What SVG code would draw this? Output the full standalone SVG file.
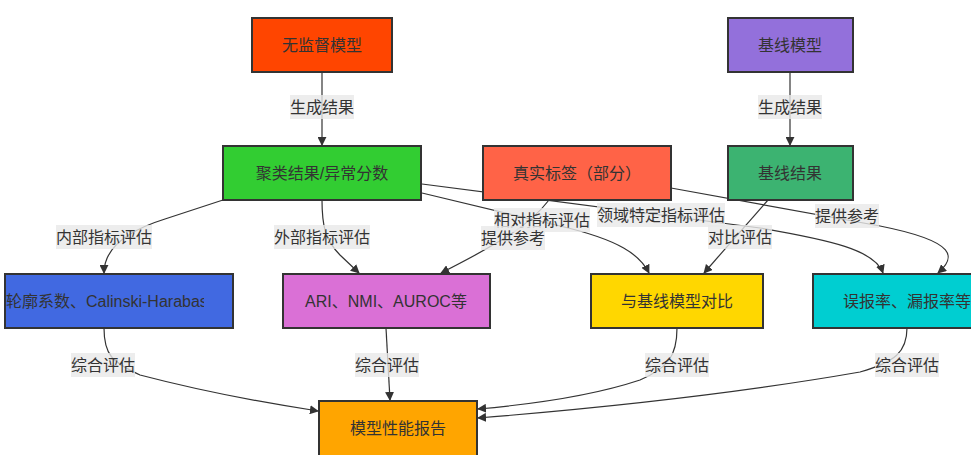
<svg xmlns="http://www.w3.org/2000/svg" width="971" height="455" viewBox="0 0 971 455">
<style>
.node rect{stroke:#333;stroke-width:2}
.node text{font-family:"Liberation Sans","Noto Sans CJK SC",sans-serif;font-size:16px;fill:#333;text-anchor:middle;dominant-baseline:central}
.edge{fill:none;stroke:#333;stroke-width:1.2;marker-end:url(#arr)}
.lbl rect{fill:#e8e8e8;fill-opacity:0.8}
.lbl text{font-family:"Liberation Sans","Noto Sans CJK SC",sans-serif;font-size:16px;fill:#333;text-anchor:middle;dominant-baseline:central}
</style>
<defs>
<marker id="arr" viewBox="0 0 10 10" refX="9" refY="5" markerUnits="userSpaceOnUse" markerWidth="9" markerHeight="9" orient="auto">
<path d="M0,0 L10,5 L0,10 z" fill="#333"/>
</marker>
<clipPath id="clipBlue"><rect x="5" y="274" width="199" height="54"/></clipPath>
</defs>
<rect width="971" height="455" fill="#fff"/>
<g id="connectors">
<path class="edge" d="M322,72 L322,145"/>
<path class="edge" d="M790,72 L790,145"/>
<path class="edge" d="M226,199 L165,219 Q104,238 104,273"/>
<path class="edge" d="M322,200 C322,225 325,240 340,255 L359,273"/>
<path class="edge" d="M549,200 C530,225 500,243 441,273"/>
<path class="edge" d="M422,193 L560,226 C620,240 640,255 649,273"/>
<path class="edge" d="M768,200 L704,273"/>
<path class="edge" d="M422,184 L760,228 C830,240 875,250 883,273"/>
<path class="edge" d="M671,188 L880,226 C960,242 955,258 938,273"/>
<path class="edge" d="M104,328 C104,355 112,362 140,375 Q220,396 318,411"/>
<path class="edge" d="M386,328 L390,400"/>
<path class="edge" d="M677,328 C677,356 668,368 640,380 Q580,400 478,409"/>
<path class="edge" d="M907,328 C907,352 895,362 860,372 Q700,400 478,418"/>
<g class="lbl">
<rect x="290" y="95" width="64" height="24"/><text x="322" y="107">生成结果</text>
<rect x="758" y="95" width="64" height="24"/><text x="790" y="107">生成结果</text>
<rect x="56" y="225" width="96" height="24"/><text x="104" y="237">内部指标评估</text>
<rect x="274" y="225" width="96" height="24"/><text x="322" y="237">外部指标评估</text>
<rect x="494" y="208" width="96" height="24"/><text x="542" y="220">相对指标评估</text>
<rect x="481" y="226" width="64" height="24"/><text x="513" y="238">提供参考</text>
<rect x="597" y="203" width="128" height="24"/><text x="661" y="215">领域特定指标评估</text>
<rect x="708" y="225" width="64" height="24"/><text x="740" y="237">对比评估</text>
<rect x="815" y="204" width="64" height="24"/><text x="847" y="216">提供参考</text>
<rect x="71" y="353" width="64" height="24"/><text x="103" y="365">综合评估</text>
<rect x="355" y="353" width="64" height="24"/><text x="387" y="365">综合评估</text>
<rect x="645" y="353" width="64" height="24"/><text x="677" y="365">综合评估</text>
<rect x="875" y="353" width="64" height="24"/><text x="907" y="365">综合评估</text>
</g>
</g>
<g id="n_unsup" class="node"><rect x="252" y="18" width="140" height="54" fill="#FF4500"/><text x="322" y="45">无监督模型</text></g>
<g id="n_basemodel" class="node"><rect x="728" y="18" width="125" height="54" fill="#9370DB"/><text x="790" y="45">基线模型</text></g>
<g id="n_cluster" class="node"><rect x="223" y="146" width="198" height="54" fill="#32CD32"/><text x="322" y="173">聚类结果/异常分数</text></g>
<g id="n_truth" class="node"><rect x="483" y="146" width="188" height="54" fill="#FF6347"/><text x="577" y="173">真实标签（部分）</text></g>
<g id="n_baseres" class="node"><rect x="728" y="146" width="125" height="54" fill="#3CB371"/><text x="790" y="173">基线结果</text></g>
<g id="n_internal" class="node"><rect x="5" y="274" width="228" height="54" fill="#4169E1"/><text x="6" y="301" clip-path="url(#clipBlue)" style="text-anchor:start">轮廓系数、Calinski-Harabasz</text></g>
<g id="n_external" class="node"><rect x="283" y="274" width="207" height="54" fill="#DA70D6"/><text x="386" y="301">ARI、NMI、AUROC等</text></g>
<g id="n_compare" class="node"><rect x="591" y="274" width="172" height="54" fill="#FFD700"/><text x="677" y="301">与基线模型对比</text></g>
<g id="n_domain" class="node"><rect x="813" y="274" width="190" height="54" fill="#00CED1"/><text x="907" y="301">误报率、漏报率等</text></g>
<g id="n_report" class="node"><rect x="319" y="401" width="158" height="60" fill="#FFA500"/><text x="398" y="428">模型性能报告</text></g>
</svg>
